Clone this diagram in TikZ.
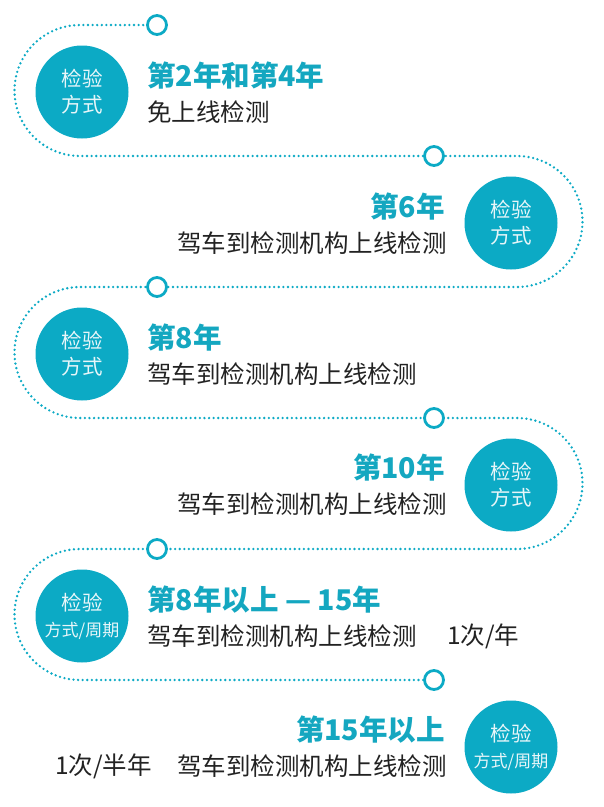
\documentclass[tikz,border=0pt]{standalone}
\usepackage{fontspec}
\setmainfont{Noto Sans CJK SC}
\definecolor{tealmain}{RGB}{12,170,197}
\definecolor{tealtext}{RGB}{20,167,192}
\definecolor{inkdark}{RGB}{34,34,34}
\definecolor{badgeink}{RGB}{232,246,249}

\begin{document}
\begin{tikzpicture}[
  x=1pt,
  y=-1pt,
  trail/.style={
    tealmain,
    line width=2.6pt,
    line cap=round,
    dash pattern=on 0pt off 4.6pt
  },
  ring/.style={
    circle,
    draw=tealmain,
    fill=white,
    line width=2.8pt,
    minimum size=19pt,
    inner sep=0pt
  },
  badge/.style={
    circle,
    fill=tealmain,
    minimum size=93pt,
    inner sep=0pt,
    text=badgeink,
    align=center,
    font=\fontsize{20.5}{26}\selectfont
  },
  yeartext/.style={
    text=tealtext,
    font=\bfseries\fontsize{28.5}{32}\selectfont,
    inner sep=0pt
  },
  steptext/.style={
    text=inkdark,
    font=\fontsize{24.5}{28}\selectfont,
    inner sep=0pt
  },
  freqtext/.style={
    text=inkdark,
    font=\fontsize{24.5}{28}\selectfont,
    inner sep=0pt
  }
]

% Canvas
\path[use as bounding box] (0,0) rectangle (604,807);

% Ring positions on the trail
\coordinate (p1) at (157,25);
\coordinate (p2) at (434,156);
\coordinate (p3) at (157,287);
\coordinate (p4) at (434,418);
\coordinate (p5) at (157,549);
\coordinate (p6) at (434,680);

% Dotted trail
\draw[trail] (p1) -- (80,25) arc(-90:-270:65.5)
  -- (p2) -- (517,156) arc(-90:90:65.5)
  -- (p3) -- (80,287) arc(-90:-270:65.5)
  -- (p4) -- (517,418) arc(-90:90:65.5)
  -- (p5) -- (80,549) arc(-90:-270:65.5)
  -- (p6);

% Rings
\foreach \p in {p1,p2,p3,p4,p5,p6}
  \node[ring] (\p ring) at (\p) {};

% Badges
\node[badge] (b1) at (82,92) {检验\\方式};
\node[badge] (b2) at (511,223) {检验\\方式};
\node[badge] (b3) at (82,354) {检验\\方式};
\node[badge] (b4) at (511,485) {检验\\方式};
\node[badge] (b5) at (82,616)
  {检验\\\fontsize{17}{26}\selectfont 方式/周期};
\node[badge] (b6) at (511,747)
  {检验\\\fontsize{17}{26}\selectfont 方式/周期};

% Row 1
\node[yeartext, anchor=west] (y1) at (147,76) {第2年和第4年};
\node[steptext, anchor=west] (s1) at (147,112) {免上线检测};

% Row 2
\node[yeartext, anchor=east] (y2) at (445,207) {第6年};
\node[steptext, anchor=east] (s2) at (447,243) {驾车到检测机构上线检测};

% Row 3
\node[yeartext, anchor=west] (y3) at (147,338) {第8年};
\node[steptext, anchor=west] (s3) at (147,374) {驾车到检测机构上线检测};

% Row 4
\node[yeartext, anchor=east] (y4) at (445,468) {第10年};
\node[steptext, anchor=east] (s4) at (447,504) {驾车到检测机构上线检测};

% Row 5
\node[yeartext, anchor=west] (y5) at (147,600) {第8年以上 — 15年};
\node[steptext, anchor=west] (s5) at (147,636) {驾车到检测机构上线检测};
\node[freqtext, anchor=west] (f5) at (447,636) {1次/年};

% Row 6
\node[yeartext, anchor=east] (y6) at (445,730) {第15年以上};
\node[steptext, anchor=east] (s6) at (447,766) {驾车到检测机构上线检测};
\node[freqtext, anchor=west] (f6) at (55,766) {1次/半年};

\end{tikzpicture}
\end{document}
